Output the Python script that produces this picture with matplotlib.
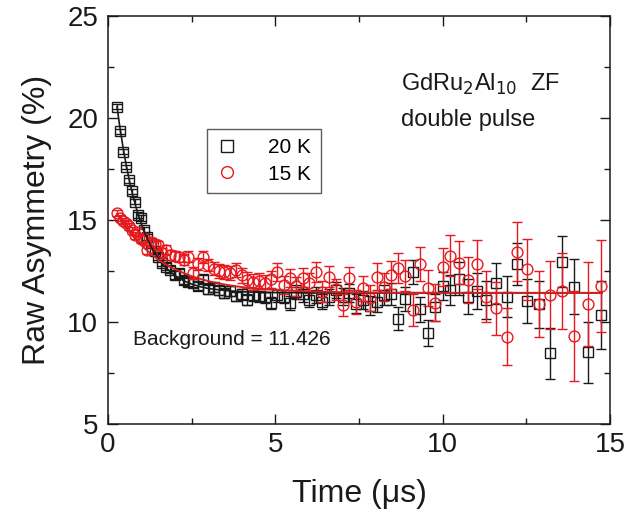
import matplotlib
matplotlib.use("Agg")
import matplotlib.pyplot as plt
from matplotlib.lines import Line2D
from matplotlib.ticker import MultipleLocator

plt.rcParams['font.family'] = ['Liberation Sans', 'DejaVu Sans']

# time bins (µs)
t = [0.27, 0.36, 0.45, 0.54, 0.63, 0.72, 0.81, 0.90, 0.99, 1.08, 1.18, 1.28, 1.39, 1.50,
     1.62, 1.74, 1.86, 1.99, 2.12, 2.26, 2.40, 2.55, 2.70, 2.85, 3.00, 3.16, 3.32, 3.48,
     3.65, 3.82, 3.99, 4.16, 4.34, 4.52, 4.70, 4.88, 5.06, 5.25, 5.44, 5.63, 5.82, 6.01,
     6.21, 6.41, 6.61, 6.81, 7.01, 7.21, 7.41, 7.62, 7.83, 8.04, 8.25, 8.46, 8.67, 8.89,
     9.11, 9.33, 9.55, 9.77, 10.00, 10.22, 10.49, 10.75, 11.02, 11.29, 11.59, 11.91,
     12.21, 12.53, 12.87, 13.20, 13.57, 13.94, 14.34, 14.74]

# 20 K
a20 = [20.55, 19.35, 18.35, 17.60, 16.95, 16.40, 15.90, 15.25, 15.10, 14.50, 14.15, 13.85,
       13.50, 13.20, 12.90, 12.70, 12.55, 12.30, 12.40, 12.05, 11.95, 11.90, 11.75, 12.10,
       11.60, 11.70, 11.55, 11.40, 11.50, 11.25, 11.35, 11.10, 11.30, 11.25, 11.20, 10.92,
       11.30, 11.24, 10.92, 11.49, 11.35, 11.10, 11.32, 11.00, 11.24, 11.57, 11.24, 11.41,
       10.90, 11.08, 10.80, 11.00, 11.32, 11.37, 10.16, 11.13, 12.44, 10.62, 9.48, 10.72,
       11.76, 11.57, 12.12, 11.24, 11.52, 11.08, 11.90, 11.24, 12.84, 11.03, 10.87, 8.47,
       12.96, 11.73, 8.51, 10.34]
e20 = [0.12, 0.12, 0.12, 0.12, 0.12, 0.13, 0.13, 0.13, 0.14, 0.14, 0.14, 0.15, 0.15, 0.16,
       0.16, 0.17, 0.17, 0.18, 0.18, 0.19, 0.19, 0.20, 0.20, 0.21, 0.21, 0.22, 0.22, 0.23,
       0.24, 0.24, 0.25, 0.26, 0.27, 0.28, 0.29, 0.30, 0.31, 0.32, 0.33, 0.34, 0.35, 0.36,
       0.37, 0.38, 0.40, 0.41, 0.42, 0.44, 0.45, 0.46, 0.48, 0.49, 0.51, 0.53, 0.55, 0.57,
       0.59, 0.61, 0.64, 0.66, 0.70, 0.75, 0.80, 0.85, 0.90, 0.95, 1.00, 1.00, 1.05, 1.10,
       1.15, 1.25, 1.25, 1.35, 1.50, 1.65]

# 15 K
a15 = [15.35, 15.10, 14.95, 14.85, 14.70, 14.50, 14.25, 14.40, 14.05, 14.10, 13.55, 13.90,
       13.80, 13.75, 13.40, 13.55, 13.30, 13.25, 13.20, 13.05, 13.20, 12.40, 12.85, 13.20,
       12.80, 12.60, 12.50, 12.45, 12.40, 12.55, 12.30, 12.05, 11.95, 12.00, 11.90, 12.10,
       12.45, 11.80, 12.15, 11.75, 12.17, 11.90, 12.47, 11.49, 12.22, 11.60, 10.83, 12.14,
       11.00, 11.65, 11.16, 12.22, 11.73, 12.30, 12.63, 12.27, 10.59, 12.83, 11.65, 10.95,
       12.70, 13.24, 12.90, 12.06, 12.84, 11.24, 10.67, 9.28, 13.45, 12.58, 10.88, 11.32,
       11.53, 9.31, 10.88, 11.76]
e15 = [0.15, 0.15, 0.16, 0.16, 0.17, 0.17, 0.18, 0.18, 0.19, 0.19, 0.20, 0.20, 0.21, 0.22,
       0.22, 0.23, 0.24, 0.24, 0.25, 0.26, 0.27, 0.28, 0.29, 0.30, 0.31, 0.32, 0.33, 0.34,
       0.35, 0.36, 0.37, 0.38, 0.39, 0.40, 0.41, 0.42, 0.43, 0.44, 0.45, 0.46, 0.47, 0.48,
       0.49, 0.50, 0.51, 0.53, 0.55, 0.57, 0.59, 0.61, 0.63, 0.65, 0.68, 0.70, 0.73, 0.76,
       0.80, 0.84, 0.88, 0.92, 0.95, 1.00, 1.05, 1.13, 1.20, 1.25, 1.30, 1.40, 1.44, 1.50,
       1.60, 1.67, 1.86, 2.20, 2.08, 2.25]

# fit curves
t_fit20 = [0.27, 0.35, 0.45, 0.55, 0.65, 0.75, 0.85, 0.95, 1.10, 1.25, 1.40, 1.60, 1.80,
           2.00, 2.25, 2.50, 2.75, 3.00, 3.50, 4.00, 4.50, 5.00, 6.00, 7.00, 14.76]
fit20 = [20.55, 19.60, 18.55, 17.64, 16.84, 16.15, 15.55, 15.02, 14.35, 13.81, 13.37, 12.90,
         12.55, 12.28, 12.03, 11.86, 11.73, 11.64, 11.54, 11.48, 11.455, 11.44, 11.43, 11.426,
         11.426]
t_fit15 = [0.27, 0.40, 0.60, 0.80, 1.00, 1.25, 1.50, 1.75, 2.00, 2.50, 3.00, 3.50, 4.00,
           4.50, 5.00, 6.00, 7.00, 8.00, 10.00, 14.76]
fit15 = [15.30, 14.96, 14.50, 14.10, 13.75, 13.38, 13.06, 12.80, 12.58, 12.24, 12.00, 11.83,
         11.71, 11.63, 11.57, 11.50, 11.46, 11.44, 11.43, 11.426]

labels = ['20 K', '15 K']
background = 11.426

fig = plt.figure(figsize=(6.41, 5.17), dpi=100)
ax = fig.add_axes([0.1685, 0.18, 0.783, 0.789])

dark = '#1a1a1a'
red = '#e8191e'
ax.errorbar(t, a20, yerr=e20, fmt='s', ms=6.8, mfc='none', mec=dark, mew=1.0,
            ecolor=dark, elinewidth=1.0, capsize=3.5, capthick=1.0, zorder=3)
ax.errorbar(t, a15, yerr=e15, fmt='o', ms=7.8, mfc='none', mec=red, mew=1.0,
            ecolor=red, elinewidth=1.0, capsize=3.5, capthick=1.0, zorder=4)
ax.plot(t_fit20, fit20, color=dark, lw=1.2, zorder=5)
ax.plot(t_fit15, fit15, color='#d42020', lw=1.4, zorder=6)

ax.set_xlim(0, 15)
ax.set_ylim(5, 25)
ax.xaxis.set_major_locator(MultipleLocator(5))
ax.xaxis.set_minor_locator(MultipleLocator(2.5))
ax.yaxis.set_major_locator(MultipleLocator(5))
ax.yaxis.set_minor_locator(MultipleLocator(2.5))
ax.tick_params(which='both', direction='in', top=True, right=True, colors=dark,
               labelsize=20, width=1.0)
ax.tick_params(which='major', length=7)
ax.tick_params(which='minor', length=4)
ax.tick_params(axis='y', pad=7)
ax.tick_params(axis='x', pad=6)
for s in ax.spines.values():
    s.set_linewidth(1.1)
    s.set_color(dark)

ax.set_xlabel('Time (\u03bcs)', fontsize=23, color=dark, labelpad=15)
ax.set_ylabel('Raw Asymmetry (%)', fontsize=23, color=dark, labelpad=11)

ax.text(0.583, 0.832, r'GdRu$_2$Al$_{10}$  ZF', transform=ax.transAxes, fontsize=17,
        color=dark, ha='left', va='center')
ax.text(0.583, 0.745, 'double pulse', transform=ax.transAxes, fontsize=17,
        color=dark, ha='left', va='center')
ax.text(0.05, 0.206, 'Background = %.3f' % background, transform=ax.transAxes,
        fontsize=15, color=dark, ha='left', va='center')

handles = [Line2D([], [], ls='none', marker='s', ms=8, mfc='none', mec=dark, mew=1.0),
           Line2D([], [], ls='none', marker='o', ms=8.5, mfc='none', mec=red, mew=1.0)]
leg = ax.legend(handles, labels, loc='upper left', bbox_to_anchor=(0.197, 0.723),
                fontsize=15, frameon=True, fancybox=False, edgecolor='#333333',
                handlelength=1.0, handletextpad=1.5, borderpad=0.45, labelspacing=0.35,
                borderaxespad=0.0)
leg.get_frame().set_linewidth(1.0)

fig.savefig('out.png', dpi=100)
